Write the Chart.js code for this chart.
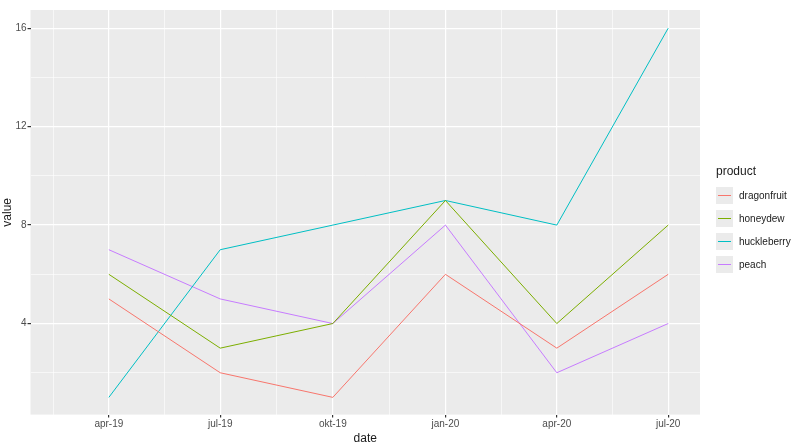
<!DOCTYPE html>
<html><head><meta charset="utf-8">
<script src="https://cdn.jsdelivr.net/npm/chart.js@4"></script>
<style>
body{margin:0;background:#fff;font-family:"Liberation Sans",Arial,sans-serif}
#wrap{position:relative;width:800px;height:442px}
#leg{position:absolute;left:716px;top:164px;font-size:10px;color:#1a1a1a}
#leg .t{font-size:12px;margin-bottom:6px}
#leg .i{display:flex;align-items:center;height:23px}
#leg .k{width:17px;height:17px;background:#EBEBEB;position:relative;margin-right:6px}
#leg .k span{position:absolute;left:2px;width:13px;top:8px;height:0;border-top:1px solid}
</style></head><body>
<div id="wrap"><canvas id="c" width="800" height="442"></canvas>
<div id="leg"><div class="t">product</div></div></div>
<script>
const dateLabels=["apr-19","jul-19","okt-19","jan-20","apr-20","jul-20"];
const dateDays=[0,91,183,275,366,457];
const products=["dragonfruit","honeydew","huckleberry","peach"];
const colors=["#F8766D","#7CAE00","#00BFC4","#C77CFF"];
const dragonfruit=[5,2,1,6,3,6];
const honeydew=[6,3,4,9,4,8];
const huckleberry=[1,7,8,9,8,16];
const peach=[7,5,4,8,2,4];
const series=[dragonfruit,honeydew,huckleberry,peach];
const yMajor=[4,8,12,16];

const leg=document.getElementById('leg');
products.forEach((p,i)=>{leg.insertAdjacentHTML('beforeend',`<div class="i"><div class="k"><span style="border-top-color:${colors[i]}"></span></div>${p}</div>`)});

const bg={id:'bg',beforeDraw(ch){const a=ch.chartArea,c=ch.ctx;c.save();c.fillStyle='#EBEBEB';c.fillRect(a.left,a.top,a.right-a.left,a.bottom-a.top);c.restore();}};
const xTicks=[];dateDays.forEach((d,i)=>{if(i>0)xTicks.push({value:(d+dateDays[i-1])/2,minor:true});xTicks.push({value:d,label:dateLabels[i]});});
xTicks.unshift({value:-45.5,minor:true});
const yTicks=[];yMajor.forEach(v=>{yTicks.push({value:v-2,minor:true});yTicks.push({value:v,label:String(v)});});
new Chart(document.getElementById('c'),{type:'line',
data:{datasets:series.map((s,i)=>({label:products[i],data:s.map((v,j)=>({x:dateDays[j],y:v})),borderColor:colors[i],borderWidth:1,pointRadius:0,tension:0}))},
plugins:[bg],
options:{responsive:false,animation:false,layout:{padding:{right:100,top:10,left:0,bottom:-4}},
plugins:{legend:{display:false},tooltip:{enabled:false}},
scales:{
x:{type:'linear',min:-64,max:483,afterBuildTicks:s=>{s.ticks=xTicks.map(t=>({...t}));},
ticks:{autoSkip:false,maxRotation:0,padding:1,color:'#4D4D4D',font:{size:10},callback:(v,i)=>xTicks[i].label||''},
grid:{color:'#fff',lineWidth:c=>xTicks[c.index]&&xTicks[c.index].minor?0.6:1.2,tickColor:c=>xTicks[c.index]&&xTicks[c.index].minor?'rgba(0,0,0,0)':'#333',tickLength:3},border:{display:false},
title:{display:true,text:'date',color:'#1a1a1a',font:{size:12},padding:{top:0,bottom:0}}},
y:{min:0.3,max:16.74,afterBuildTicks:s=>{s.ticks=yTicks.map(t=>({...t}));},
ticks:{autoSkip:false,padding:1,color:'#4D4D4D',font:{size:10},callback:(v,i)=>yTicks[i].label||''},
grid:{color:'#fff',lineWidth:c=>yTicks[c.index]&&yTicks[c.index].minor?0.6:1.2,tickColor:c=>yTicks[c.index]&&yTicks[c.index].minor?'rgba(0,0,0,0)':'#333',tickLength:3},border:{display:false},
title:{display:true,text:'value',color:'#1a1a1a',font:{size:12},padding:{top:0,bottom:0}}}
}}});
</script></body></html>
